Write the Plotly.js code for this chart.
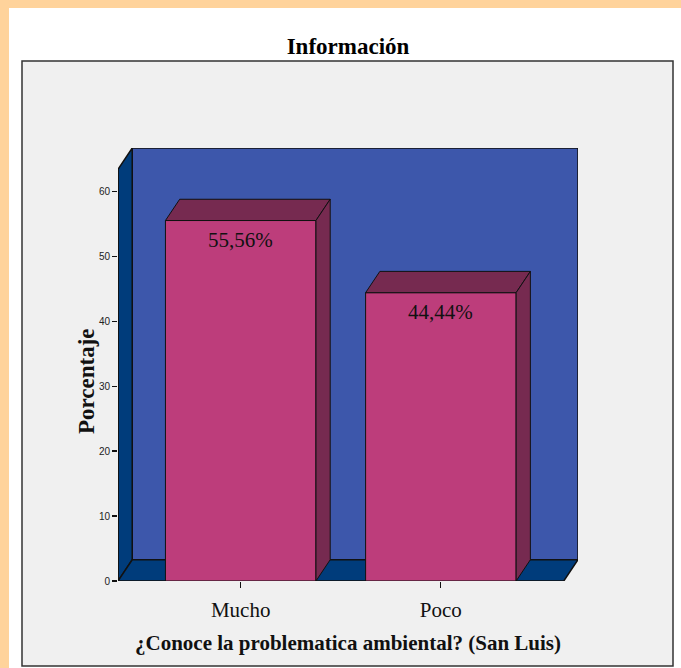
<!DOCTYPE html>
<html>
<head>
<meta charset="utf-8">
<script src="https://cdn.plot.ly/plotly-3.0.1.min.js"></script>
<style>
  html, body { margin: 0; padding: 0; background: #ffffff; }
  #chart { width: 681px; height: 668px; }
</style>
</head>
<body>
<div id="chart"></div>
<script>
// ---- data ----
var categories = ['Mucho', 'Poco'];
var values = [55.56, 44.44];
var valueLabels = ['55,56%', '44,44%'];
var yTickValues = [0, 10, 20, 30, 40, 50, 60];
var chartTitle = 'Información';
var xTitle = '¿Conoce la problematica ambiental? (San Luis)';
var yTitle = 'Porcentaje';

// ---- 3D geometry (in axis units) ----
var barWidth = 0.752;
var depthX = 0.0711;   // horizontal depth offset
var depthY = 3.28;     // vertical depth offset
var xMin = -0.613;
var xMaxFront = 1.614;
var wallTop = 63.46;

var serif = 'Liberation Serif';
var frontColor = '#BD3D7B';
var sideColor = '#762A50';
var wallColor = '#3D57AB';
var darkWall = '#003C7B';
var edge = '#111111';

var traces = [];
traces.push({
  type: 'bar',
  x: [0, 1],
  y: values,
  width: barWidth,
  marker: { color: frontColor, line: { color: edge, width: 1 } },
  hoverinfo: 'skip',
  showlegend: false
});

for (var i = 0; i < values.length; i++) {
  var xl = i - barWidth / 2, xr = i + barWidth / 2, v = values[i];
  traces.push({
    type: 'scatter', mode: 'lines', fill: 'toself', fillcolor: sideColor,
    x: [xl, xr, xr + depthX, xl + depthX, xl],
    y: [v, v, v + depthY, v + depthY, v],
    line: { color: edge, width: 1 }, hoverinfo: 'skip', showlegend: false
  });
  traces.push({
    type: 'scatter', mode: 'lines', fill: 'toself', fillcolor: sideColor,
    x: [xr, xr + depthX, xr + depthX, xr, xr],
    y: [0, depthY, v + depthY, v, 0],
    line: { color: edge, width: 1 }, hoverinfo: 'skip', showlegend: false
  });
}

var shapes = [
  { type: 'rect', xref: 'paper', yref: 'paper', layer: 'below',
    x0: (22 - 118) / 460, x1: (673 - 118) / 460,
    y0: (581 - 666) / 433, y1: (581 - 61) / 433,
    fillcolor: '#F0F0F0', line: { color: '#333333', width: 1.5 } },
  { type: 'rect', xref: 'x', yref: 'y', layer: 'below',
    x0: xMin + depthX, x1: xMaxFront + depthX, y0: depthY, y1: wallTop + depthY,
    fillcolor: wallColor, line: { color: edge, width: 1.5 } },
  { type: 'path', xref: 'x', yref: 'y', layer: 'below',
    path: 'M' + xMin + ',0 L' + xMin + ',' + wallTop + ' L' + (xMin + depthX) + ',' + (wallTop + depthY) +
          ' L' + (xMin + depthX) + ',' + depthY + ' Z',
    fillcolor: darkWall, line: { color: edge, width: 1.5 } },
  { type: 'path', xref: 'x', yref: 'y', layer: 'below',
    path: 'M' + xMin + ',0 L' + xMaxFront + ',0 L' + (xMaxFront + depthX) + ',' + depthY +
          ' L' + (xMin + depthX) + ',' + depthY + ' Z',
    fillcolor: darkWall, line: { color: edge, width: 1.5 } },
  { type: 'line', xref: 'x', yref: 'y', x0: xMin, x1: xMin, y0: 0, y1: wallTop,
    line: { color: edge, width: 1.5 } }
];

var annotations = [];
for (var j = 0; j < values.length; j++) {
  annotations.push({
    x: j, y: values[j], xref: 'x', yref: 'y', text: valueLabels[j],
    showarrow: false, yanchor: 'top', yshift: -5,
    font: { family: serif, size: 21, color: '#111111' }
  });
}
annotations.push({
  xref: 'paper', yref: 'paper', x: (348 - 118) / 460, y: (581 - 643) / 433,
  xanchor: 'center', yanchor: 'middle', showarrow: false,
  text: '<b>' + xTitle + '</b>',
  font: { family: serif, size: 21, color: '#111' }
});
annotations.push({
  xref: 'paper', yref: 'paper', x: (86 - 118) / 460, y: (581 - 381) / 433,
  xanchor: 'center', yanchor: 'middle', showarrow: false, textangle: -90,
  text: '<b>' + yTitle + '</b>',
  font: { family: serif, size: 23, color: '#111' }
});

var layout = {
  width: 681, height: 668,
  margin: { l: 118, r: 103, t: 148, b: 87, pad: 0 },
  paper_bgcolor: '#ffffff',
  plot_bgcolor: 'rgba(0,0,0,0)',
  title: {
    text: '<b>' + chartTitle + '</b>',
    x: (348 / 681), xanchor: 'center',
    y: 1 - 46 / 668, yanchor: 'middle',
    font: { family: serif, size: 23, color: '#000000' }
  },
  xaxis: {
    range: [xMin, xMaxFront + depthX],
    tickvals: [0, 1], ticktext: categories,
    ticks: 'outside', ticklen: 6, tickcolor: '#111', tickwidth: 1,
    ticklabelstandoff: 4,
    showgrid: false, zeroline: false, showline: false,
    tickfont: { family: serif, size: 21, color: '#111' },
    fixedrange: true
  },
  yaxis: {
    range: [0, wallTop + depthY],
    tickvals: yTickValues,
    ticks: 'outside', ticklen: 5, tickcolor: '#111', tickwidth: 1.5,
    showgrid: false, zeroline: false, showline: false,
    tickfont: { family: 'Liberation Sans', size: 10, color: '#222' },
    fixedrange: true
  },
  shapes: shapes,
  annotations: annotations,
  showlegend: false
};

Plotly.newPlot('chart', traces, layout, { displayModeBar: false, staticPlot: true }).then(function () {
  var c = document.getElementById('chart');
  c.style.position = 'relative';
  var top = document.createElement('div');
  top.style.cssText = 'position:absolute;left:0;top:0;width:681px;height:8px;background:#FFD39B;';
  var left = document.createElement('div');
  left.style.cssText = 'position:absolute;left:0;top:0;width:9px;height:668px;background:#FFD39B;';
  c.appendChild(top); c.appendChild(left);
});
</script>
</body>
</html>
